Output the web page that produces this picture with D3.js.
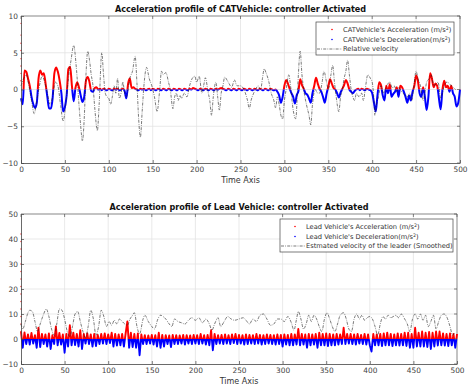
<!DOCTYPE html>
<html><head><meta charset="utf-8">
<script src="https://cdn.jsdelivr.net/npm/d3@7"></script>
<style>body{margin:0;background:#fff}svg{display:block}text{font-family:"DejaVu Sans",sans-serif}</style>
</head><body><svg id="c" width="469" height="386"></svg>
<script>
// ---------------- DATA ----------------
const xTicks = [0, 50, 100, 150, 200, 250, 300, 350, 400, 450, 500];
const topYTicks = [-10, -5, 0, 5, 10];
const botYTicks = [-10, 0, 10, 20, 30, 40, 50];

const topTitle = "Acceleration profile of CATVehicle: controller Activated";
const botTitle = "Acceleration profile of Lead Vehicle: controller Activated";
const xLabel = "Time Axis";
const topLegend = ["CATVehicle's Acceleration (m/s", "CATVehicle's  Deceleration(m/s", "Relative velocity"];
const botLegend = ["Lead Vehicle's Acceleration (m/s", "Lead Vehicle's  Deceleration(m/s", "Estmated velocity of the leader (Smoothed)"];

// CATVehicle acceleration, sampled every 2 s (positive = red, negative = blue)
const catStep = 2;
const catAccel = [
 -1.2,-2.0,2.6,2.4,1.5,0.5,-1.0,-2.0,-2.5,-1.8,
 1.5,2.6,2.0,2.2,0.8,-1.0,-2.6,-2.6,-1.2,2.2,
 3.0,2.4,1.2,-0.5,-3.0,-2.4,-0.8,2.8,3.1,0.5,
 -1.6,0.2,1.0,0.3,-0.8,-1.7,-1.0,1.2,1.7,1.0,
 -0.2,-0.3,0.2,0.3,0.0,0.1,-0.1,0.1,0.0,-0.1,
 0.1,0.0,-0.1,0.1,0.0,0.1,-0.1,0.0,0.1,-0.2,
 -1.2,0.8,1.5,0.2,0.3,0.1,0.0,-0.1,0.1,0.0,
 0.1,-0.1,0.0,0.1,-0.1,0.1,0.0,-0.1,0.1,0.0,
 -0.1,0.1,0.0,-0.1,0.1,0.0,-0.1,0.1,0.0,-0.1,
 0.1,0.0,-0.1,0.1,0.0,-0.1,0.1,0.0,0.2,0.1,
 0.0,-0.1,0.1,0.0,-0.1,0.1,0.0,-0.1,0.1,0.0,
 -0.1,0.1,0.0,0.1,0.2,0.1,0.0,-0.1,0.1,0.0,
 -0.1,0.1,0.0,-0.1,0.1,0.0,-0.1,0.1,0.0,-0.1,
 0.1,0.0,-0.1,0.1,0.0,-0.1,0.1,0.0,-0.1,0.1,
 0.0,-0.1,0.1,0.0,-0.1,0.0,-0.3,-0.8,-1.8,-1.0,
 0.5,1.3,0.8,0.1,-0.5,-1.0,-1.9,-0.8,-0.2,1.4,
 0.6,0.1,-0.5,-0.7,-1.2,-1.8,-0.5,0.5,1.6,0.8,
 0.1,-0.3,-1.0,-1.8,-0.6,0.4,1.4,0.8,0.2,0.0,
 -0.5,-1.1,-0.4,0.1,0.6,1.3,0.8,0.0,-0.3,-0.5,
 -0.2,0.0,0.1,-0.1,0.1,0.0,-0.1,0.1,0.0,-0.1,
 -0.5,-1.8,-3.0,-0.8,1.0,0.6,-0.8,-1.5,0.5,-0.5,
 0.7,-1.0,-0.6,-0.3,0.3,-1.0,0.5,0.3,-0.3,-1.0,
 -1.8,-0.8,-1.5,-0.3,0.5,1.9,1.2,-0.5,-1.0,0.3,
 -1.0,-2.8,-1.0,2.2,1.5,0.3,0.8,0.5,-1.2,-2.7,
 0.0,1.2,0.3,0.5,-0.3,0.5,-0.5,-1.0,-2.3,-1.8,
 0.0
];
const catInitDots = [9.0, 7.4, 6.3, 5.3, 4.2, 3.2, 2.2, 1.2];

// Relative velocity (dash-dot)
const relTime = [0,3,6,9,12,15,18,21,24,27,30,33,36,39,42,45,48,51,54,57,60,63,66,68,70,72,74,76,78,80,82,84,87,89,92,94,96,98,100,102,104,106,108,110,112,114,116,118,120,122,124,127,130,132,134,136,138,140,143,146,149,152,155,158,160,162,165,168,170,173,175,177,179,181,183,186,189,192,195,198,200,203,206,208,210,213,215,217,219,222,224,226,228,230,232,235,237,240,243,246,250,253,255,258,260,262,265,268,270,273,275,277,279,282,285,288,290,292,294,296,298,300,302,305,307,310,313,315,318,320,322,325,328,330,332,335,338,340,343,345,348,350,353,355,357,359,362,364,366,368,370,372,374,376,378,380,382,385,388,390,392,395,398,400,402,403,405,407,410,413,415,418,420,423,425,428,430,433,435,438,440,443,445,447,450,452,455,458,460,462,465,467,469,470,473,475,478,480,482,485,488,490,493,495];
const relVel = [0.5,1.5,2.0,0.5,-1.5,-3.3,-1.5,0.5,1.8,1.0,-0.5,-2.0,-1.0,1.0,0.5,-2.0,-4.3,-2.0,1.5,4.0,6.0,3.0,-2.0,-5.0,-7.0,-4.0,2.0,5.2,4.0,2.0,0.5,-2.5,-5.6,-2.0,5.0,2.0,-0.5,-1.0,-1.2,-2.0,-1.0,0.5,-0.5,1.5,-1.2,-0.5,1.0,-0.5,-1.0,0.0,1.5,2.5,4.5,1.0,-4.0,-6.5,-3.0,0.5,3.0,1.5,0.5,-1.0,-3.0,0.0,2.5,2.0,2.3,1.0,0.0,-2.6,-1.0,-0.5,-1.5,-0.8,-1.2,-0.5,-1.0,0.5,1.5,1.8,1.0,1.8,-0.5,0.5,1.6,-0.3,-1.5,-3.5,-1.0,1.0,-1.0,-2.8,-0.5,0.5,1.7,1.2,0.8,0.3,1.3,0.5,0.5,0.2,-0.3,-1.5,-2.6,-1.5,-0.5,0.2,0.5,0.0,1.5,2.8,2.3,1.2,-0.5,-1.5,-2.5,-1.0,-2.0,-3.5,-4.0,-1.5,0.0,2.0,0.5,-2.8,-4.0,0.0,5.2,2.0,0.0,-2.0,-3.5,-4.8,-2.0,0.0,-0.5,-0.5,1.0,2.5,1.0,0.0,2.0,3.3,1.0,-1.0,-3.0,-1.0,0.0,1.5,2.5,4.0,2.0,0.0,-1.0,-1.5,-0.5,-1.0,-0.5,-1.5,0.0,2.0,1.5,1.0,-1.5,-3.5,-2.0,-1.0,0.5,-0.5,0.0,0.8,1.0,0.2,0.5,-0.3,0.3,-0.2,-0.5,-0.8,-1.0,-0.5,-1.5,0.0,2.5,1.5,0.5,-1.5,-0.5,1.0,1.5,2.0,1.0,0.5,0.8,1.0,-1.2,-0.5,0.5,1.0,0.8,0.5,0.2,0.0];

// Lead vehicle acceleration, sampled every 2 s
const leadStep = 2;
const leadAccel = [
 3.0,-3.5,2.6,-2.0,1.8,-2.2,2.4,-1.8,1.5,-3.5,
 4.5,-3.2,2.0,-2.0,1.8,-3.0,2.2,-4.0,1.5,-2.0,
 5.0,-2.5,2.4,-2.2,1.8,-5.5,2.0,-3.0,5.5,-2.5,
 2.5,-2.4,2.0,-3.0,3.5,-4.0,2.0,-1.8,2.2,-2.0,
 1.8,-3.0,2.0,-2.8,1.6,-2.0,2.0,-1.8,2.2,-2.0,
 1.8,-1.6,2.5,-3.0,2.0,-2.6,1.8,-2.5,2.0,-3.0,
 2.2,7.0,-3.5,2.5,-3.2,2.0,-3.5,2.2,-6.5,1.8,
 -2.0,1.5,-2.0,1.4,-1.8,1.6,-2.2,1.5,-3.0,2.5,
 -3.5,1.6,-3.0,1.5,-2.0,1.4,-3.2,1.6,-2.0,1.5,
 -2.0,1.4,-1.8,1.6,-2.2,1.5,-1.8,1.4,-2.0,1.6,
 -1.8,1.5,-2.0,2.0,-1.8,1.5,-2.2,1.6,-2.5,3.5,
 -4.5,2.0,-2.0,1.5,-1.8,1.6,-2.0,1.8,-1.8,1.5,
 -2.0,1.8,-1.6,2.0,-2.0,1.6,-1.8,1.5,-2.2,1.8,
 -2.0,1.6,-1.8,1.5,-2.0,2.0,-1.8,1.6,-2.2,1.5,
 -2.0,1.8,-1.8,1.6,-2.0,1.5,-2.2,1.8,-2.0,1.6,
 -3.0,1.8,-2.2,1.6,-2.5,2.0,-2.5,1.8,-2.2,4.0,
 -2.5,2.0,-2.2,1.8,-3.5,2.0,-2.5,1.8,-2.2,2.0,
 -3.5,2.5,-2.5,2.0,-2.5,2.2,-2.8,2.0,-2.5,1.8,
 -2.5,2.0,-2.2,1.8,-2.0,4.5,-2.0,2.0,-1.8,2.0,
 -2.0,1.8,-2.2,2.0,-1.8,1.6,-2.0,2.0,-2.2,1.8,
 -2.5,-5.0,2.0,-2.5,1.8,-2.5,2.0,-2.8,2.2,-2.5,
 2.5,-2.5,2.0,-2.8,1.8,-2.5,2.2,-2.6,2.0,-2.5,
 2.5,-2.8,2.5,-3.5,2.0,-3.5,4.5,-3.0,2.5,-3.0,
 3.0,-3.0,2.5,-3.2,2.8,-4.0,2.5,-3.0,3.0,-2.6,
 3.0,-2.5,2.2,-2.6,2.0,-2.8,2.2,-2.5,2.0,-3.5,
 2.0
];
const leadInitDots = [42, 39, 36, 33, 30, 27, 24, 21, 18, 15, 12, 9, 6, 3];

// Estimated velocity of the leader (dash-dot)
const leadVelTime = [0,2,5,8,10,13,16,19,22,26,29,32,35,38,41,44,47,50,53,56,59,62,65,68,71,74,77,80,83,86,89,92,95,98,101,104,107,110,113,116,119,122,125,128,130,133,136,140,142,146,150,153,157,160,163,166,170,173,176,180,184,188,192,196,200,204,208,212,216,219,222,226,229,233,237,241,245,250,255,258,262,266,270,274,278,282,286,290,294,298,302,306,310,313,316,318,321,324,327,330,333,336,339,342,345,348,351,354,357,360,363,366,370,373,376,379,382,385,388,391,394,397,400,403,406,409,412,415,418,421,424,427,430,433,436,440,443,446,449,452,455,458,461,464,467,470,473,476,479,482,485,488,492,495,497];
const leadVel = [6,4,7,10.5,11.5,11,7,3,6,10,12,9,4,1.5,6,12,11.5,8,3,1,5,10,11,7,3,0.5,5,11.5,8,1.5,5,11.5,9,5,7,5.5,7.5,6,8,7,6,5.5,8,9.5,10.5,5,2,8,9.5,7,5,4,8,9.5,9,8,6,5,8,7,6.5,6,7.5,8.5,7.5,8.5,6.5,8,6,3.5,6,8.5,5,7,9,8,7.5,8,8.5,7.5,6,8,7,9.5,10,8,5.5,6,8,8,7,9,6.5,3.5,8,11,8,4,6,9.5,7,9.5,8,5,3,8,10.5,8,5,3,6,9.5,10.5,8,4,3,8,10,8,9.5,7.5,8.5,9,8,5,1.5,6,9,8,9.5,8.5,9,9.5,8.5,10,8,6,3,8,10,8,10,7.5,9.5,5,7,9.5,4,7,9.5,10,9,5,1.5,2.5];

// ---------------- DRAW ----------------
const svg = d3.select("#c");
const defs = svg.append("defs");

function panel(o) {
  const g = svg.append("g");
  const x = d3.scaleLinear().domain([0, 500]).range([o.left, o.right]);
  const y = d3.scaleLinear().domain(o.yDomain).range([o.bottom, o.top]);

  // grid
  g.append("g").selectAll("line").data(xTicks.slice(1, -1)).join("line")
    .attr("x1", d => x(d)).attr("x2", d => x(d)).attr("y1", o.top).attr("y2", o.bottom)
    .attr("stroke", "#e3e3e3").attr("stroke-width", 0.8);
  g.append("g").selectAll("line").data(o.yTicks.slice(1, -1)).join("line")
    .attr("y1", d => y(d)).attr("y2", d => y(d)).attr("x1", o.left).attr("x2", o.right)
    .attr("stroke", "#e3e3e3").attr("stroke-width", 0.8);

  // box top/right
  g.append("path").attr("d", `M${o.left},${o.top}H${o.right}V${o.bottom}`)
    .attr("fill", "none").attr("stroke", "#555").attr("stroke-width", 0.7);

  // clip paths
  const ca = "ca" + o.id, cb = "cb" + o.id;
  defs.append("clipPath").attr("id", ca).append("rect")
    .attr("x", o.left - 3).attr("y", o.top - 5).attr("width", o.right - o.left + 6).attr("height", y(0) - o.top + 5);
  defs.append("clipPath").attr("id", cb).append("rect")
    .attr("x", o.left - 3).attr("y", y(0)).attr("width", o.right - o.left + 6).attr("height", o.bottom - y(0));

  const pts = o.accel.map((v, i) => [i * o.step, v]);
  const line = d3.line().x(d => x(d[0])).y(d => y(d[1])).curve(o.curve);
  g.append("path").attr("d", line(pts)).attr("fill", "none").attr("stroke", "#ff0000")
    .attr("stroke-width", o.sw).attr("stroke-linejoin", "round").attr("clip-path", `url(#${ca})`);
  g.append("path").attr("d", line(pts)).attr("fill", "none").attr("stroke", "#0000ff")
    .attr("stroke-width", o.sw).attr("stroke-linejoin", "round").attr("clip-path", `url(#${cb})`);

  // initial red dots at t = 0
  g.append("g").selectAll("circle").data(o.initDots).join("circle")
    .attr("cx", x(0)).attr("cy", d => y(d)).attr("r", 0.7).attr("fill", "#ff3030");

  // dash-dot velocity
  const vl = d3.line().x((d, i) => x(o.vTime[i])).y(d => y(d)).curve(d3.curveMonotoneX);
  g.append("path").attr("d", vl(o.vel)).attr("fill", "none").attr("stroke", "#222")
    .attr("stroke-width", 0.6).attr("stroke-dasharray", "3,1.2,0.8,1.2");

  // axes
  const ax = g.append("g").attr("transform", `translate(0,${o.bottom})`)
    .call(d3.axisBottom(x).tickValues(xTicks).tickSizeInner(-3).tickSizeOuter(0).tickPadding(4));
  const ay = g.append("g").attr("transform", `translate(${o.left},0)`)
    .call(d3.axisLeft(y).tickValues(o.yTicks).tickSizeInner(-3).tickSizeOuter(0).tickPadding(3));
  [ax, ay].forEach(a => {
    a.select(".domain").attr("stroke", "#444").attr("stroke-width", 0.8);
    a.selectAll(".tick line").attr("stroke", "#444").attr("stroke-width", 0.7);
    a.selectAll(".tick text").attr("fill", "#444").style("font-size", "7.4px").style("font-family", "DejaVu Sans");
  });
  // mirror ticks
  g.append("g").selectAll("line").data(xTicks).join("line")
    .attr("x1", d => x(d)).attr("x2", d => x(d)).attr("y1", o.top).attr("y2", o.top + 3)
    .attr("stroke", "#555").attr("stroke-width", 0.7);
  g.append("g").selectAll("line").data(o.yTicks).join("line")
    .attr("y1", d => y(d)).attr("y2", d => y(d)).attr("x1", o.right).attr("x2", o.right - 3)
    .attr("stroke", "#555").attr("stroke-width", 0.7);

  // title and x label
  g.append("text").attr("x", (o.left + o.right) / 2).attr("y", o.top - 4).attr("text-anchor", "middle")
    .style("font-size", "8.1px").style("font-weight", "bold").attr("fill", "#111").text(o.title);
  g.append("text").attr("x", (o.left + o.right) / 2).attr("y", o.bottom + 20).attr("text-anchor", "middle")
    .style("font-size", "8px").attr("fill", "#333").text(xLabel);

  // legend
  const L = o.leg;
  const lg = g.append("g");
  lg.append("rect").attr("x", L.x).attr("y", L.y).attr("width", L.w).attr("height", L.h)
    .attr("fill", "#fff").attr("stroke", "#444").attr("stroke-width", 0.7);
  const rows = [L.y + 10, L.y + 20, L.y + 29];
  lg.append("circle").attr("cx", L.dotX).attr("cy", rows[0] - 2.5).attr("r", 0.8).attr("fill", "#ff0000");
  lg.append("circle").attr("cx", L.dotX).attr("cy", rows[1] - 2.5).attr("r", 0.8).attr("fill", "#0000ff");
  lg.append("line").attr("x1", L.x + 1).attr("x2", L.textX - 1).attr("y1", rows[2] - 2).attr("y2", rows[2] - 2)
    .attr("stroke", "#222").attr("stroke-width", 0.6).attr("stroke-dasharray", "3,1.2,0.8,1.2");
  o.legend.forEach((t, i) => {
    const tx = lg.append("text").attr("x", L.textX).attr("y", rows[i]).style("font-size", L.fs + "px").attr("fill", "#333");
    tx.append("tspan").text(t);
    if (i < 2) {
      tx.append("tspan").attr("dy", -2.5).style("font-size", (L.fs * 0.7) + "px").text("2");
      tx.append("tspan").attr("dy", 2.5).text(")");
    }
  });
}

panel({
  id: "t", left: 21, right: 460, top: 16, bottom: 163, yDomain: [-10, 10], yTicks: topYTicks,
  accel: catAccel, step: catStep, sw: 2, curve: d3.curveMonotoneX, initDots: catInitDots,
  vTime: relTime, vel: relVel, title: topTitle, legend: topLegend,
  leg: { x: 316, y: 22, w: 138, h: 33, dotX: 332, textX: 343, fs: 6.7 }
});
panel({
  id: "b", left: 21, right: 457, top: 214, bottom: 364, yDomain: [-10, 50], yTicks: botYTicks,
  accel: leadAccel, step: leadStep, sw: 1.9, curve: d3.curveLinear, initDots: leadInitDots,
  vTime: leadVelTime, vel: leadVel, title: botTitle, legend: botLegend,
  leg: { x: 280, y: 219, w: 173, h: 33, dotX: 295, textX: 306, fs: 6.7 }
});
</script></body></html>
